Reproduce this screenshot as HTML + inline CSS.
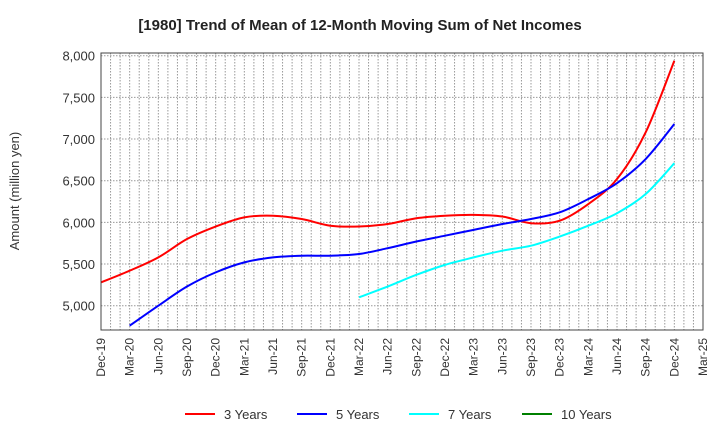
<!DOCTYPE html>
<html><head><meta charset="utf-8"><style>
body{margin:0;background:#fff;font-family:"Liberation Sans",sans-serif}
</style></head><body>
<svg id="c" width="720" height="440" xmlns="http://www.w3.org/2000/svg">
<text x="360" y="30" text-anchor="middle" font-size="15" font-weight="bold" fill="#222">[1980]  Trend of Mean of 12-Month Moving Sum of Net Incomes</text>
<text transform="translate(19,191) rotate(-90)" text-anchor="middle" font-size="13" fill="#333">Amount (million yen)</text>
<g id="grid"></g><g id="series"></g><g id="axes"></g><g id="legend"></g>
</svg>
<script>
const xLabels=["Dec-19","Mar-20","Jun-20","Sep-20","Dec-20","Mar-21","Jun-21","Sep-21","Dec-21","Mar-22","Jun-22","Sep-22","Dec-22","Mar-23","Jun-23","Sep-23","Dec-23","Mar-24","Jun-24","Sep-24","Dec-24","Mar-25"];
const yTicks=[5000,5500,6000,6500,7000,7500,8000];
const s3=[5280,5420,5580,5800,5950,6060,6080,6040,5960,5950,5980,6050,6080,6090,6070,5990,6020,6220,6520,7080,7940];
const s5=[4760,5000,5230,5400,5520,5580,5600,5600,5620,5690,5770,5840,5910,5980,6040,6120,6280,6470,6760,7180];
const s7=[5100,5230,5370,5490,5580,5660,5720,5830,5960,6110,6340,6710];
const s10=[];
const seriesNames=["3 Years","5 Years","7 Years","10 Years"];
const colors=["#ff0000","#0000ff","#00ffff","#008000"];
const starts=[0,1,9,0];
const NS="http://www.w3.org/2000/svg";
const L=101,R=703,T=53,B=330;
const x=m=>L+m*(R-L)/63;
const y=v=>305.7-(v-5000)*250/3000;
function mk(t,a,p){const e=document.createElementNS(NS,t);for(const k in a)e.setAttribute(k,a[k]);p.appendChild(e);return e;}
const g=document.getElementById('grid'),ax=document.getElementById('axes'),sg=document.getElementById('series'),lg=document.getElementById('legend');
for(let m=1;m<63;m++){const l=mk('line',{x1:x(m),x2:x(m),y1:T,y2:B,stroke:'#999','stroke-dasharray':'1.5,1.5','stroke-width':1},g);}
yTicks.forEach(v=>{const l=mk('line',{x1:L,x2:R,y1:y(v),y2:y(v),stroke:'#999','stroke-dasharray':'1.5,1.5'},g);
const t=mk('text',{x:L-6,y:y(v)+5,'text-anchor':'end','font-size':13,fill:'#333'},ax);t.textContent=v.toLocaleString('en-US');});
const fr=mk('rect',{x:L,y:T,width:R-L,height:B-T,fill:'none',stroke:'#444','stroke-width':1},ax);

xLabels.forEach((s,i)=>{const px=x(i*3);const t=mk('text',{transform:`translate(${px+4},${B+8}) rotate(-90)`,'text-anchor':'end','font-size':12,fill:'#333'},ax);t.textContent=s;});
function path(pts){let d=`M${pts[0][0]},${pts[0][1]}`;for(let i=0;i<pts.length-1;i++){const p0=pts[i-1]||pts[i],p1=pts[i],p2=pts[i+1],p3=pts[i+2]||p2;d+=` C${p1[0]+(p2[0]-p0[0])/6},${p1[1]+(p2[1]-p0[1])/6} ${p2[0]-(p3[0]-p1[0])/6},${p2[1]-(p3[1]-p1[1])/6} ${p2[0]},${p2[1]}`;}return d;}
[s3,s5,s7,s10].forEach((arr,k)=>{if(arr.length<2)return;const pts=arr.map((v,i)=>[x((starts[k]+i)*3),y(v)]);const p=mk('path',{d:path(pts),fill:'none',stroke:colors[k],'stroke-width':2},sg);});
const lx=[185,297,409,522];
seriesNames.forEach((n,k)=>{const ge=mk('g',{},lg);
mk('line',{x1:lx[k],x2:lx[k]+30,y1:414,y2:414,stroke:colors[k],'stroke-width':2},ge);
const t=mk('text',{x:lx[k]+39,y:419,'font-size':13,fill:'#333'},ge);t.textContent=n;});
</script>
</body></html>
